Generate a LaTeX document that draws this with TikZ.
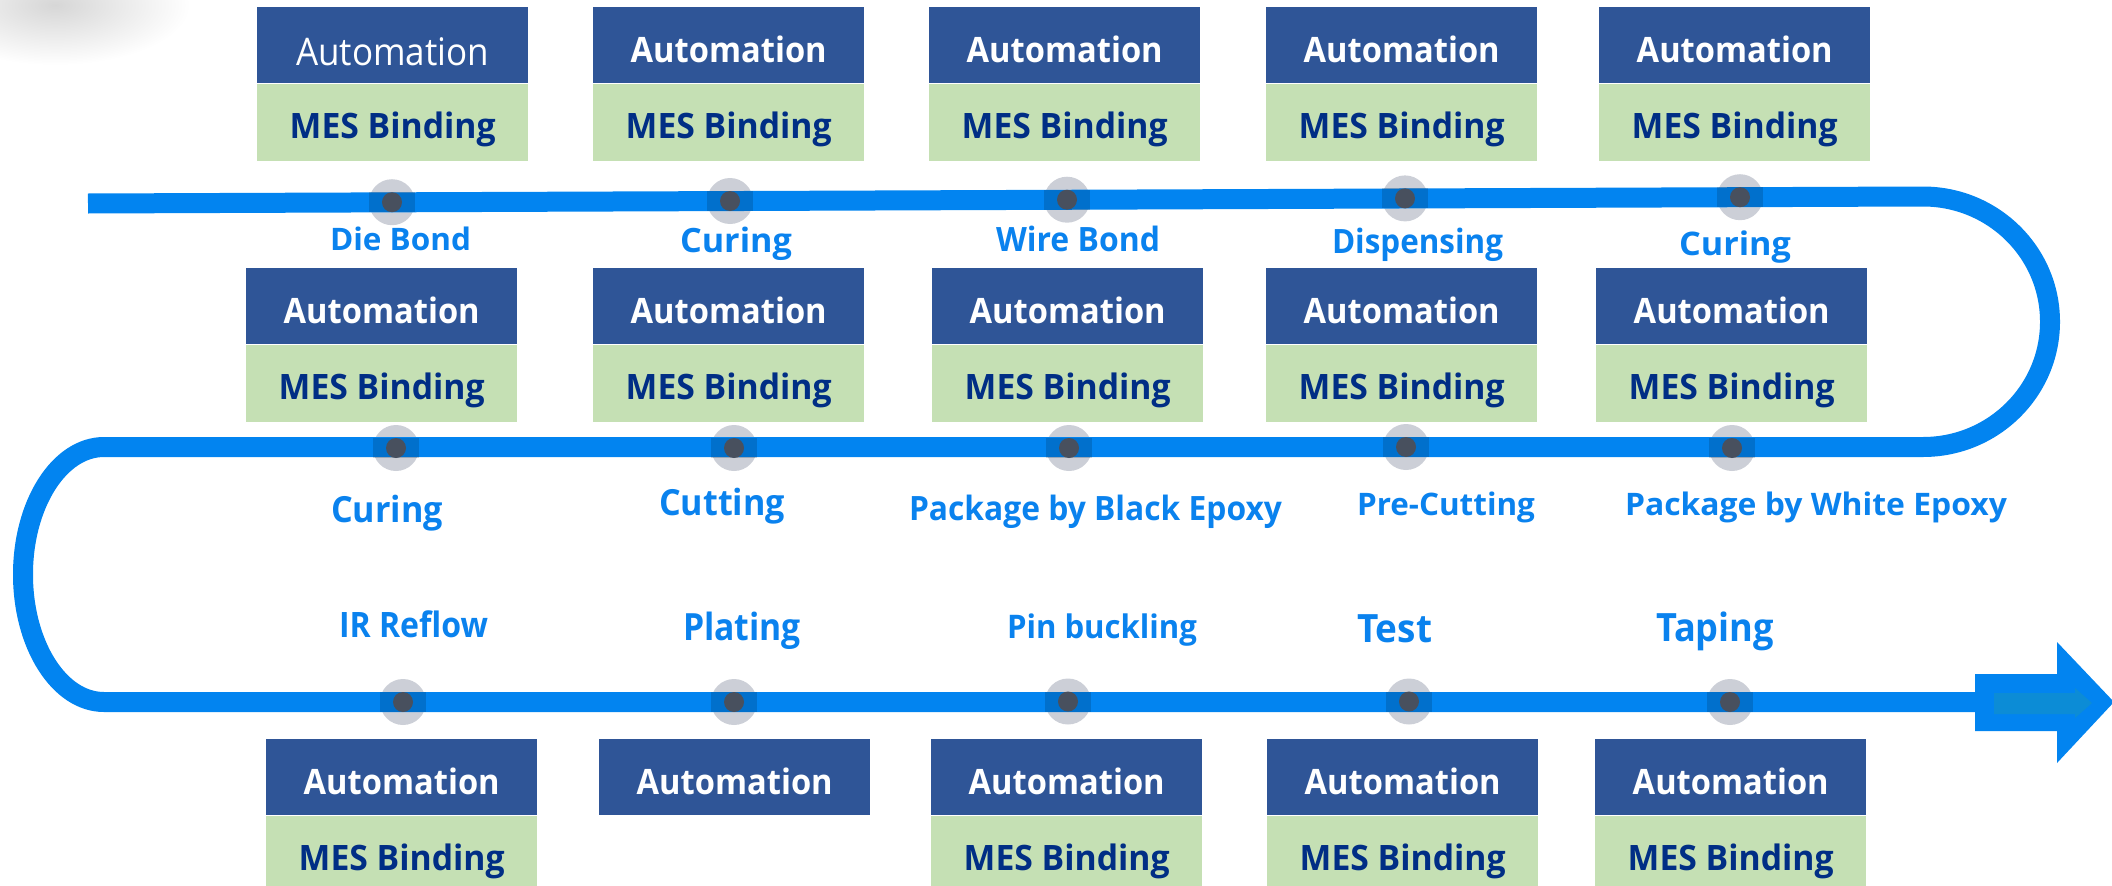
\documentclass[tikz,border=0pt]{standalone}
\usepackage{fontspec}
\setmainfont{Open Sans}
\usepackage{graphicx}

\definecolor{flow}{RGB}{2,132,240}
\definecolor{stepblue}{RGB}{10,130,238}
\definecolor{autofill}{RGB}{47,85,151}
\definecolor{mesfill}{RGB}{197,224,180}
\definecolor{mestext}{RGB}{0,46,133}
\definecolor{halo}{RGB}{204,207,215}
\definecolor{dotcore}{RGB}{72,80,94}
\definecolor{arrowcore}{RGB}{12,140,214}

% set #3 at size #2 and stretch it horizontally to width #1 (pt)
\newcommand\fitto[3]{%
  \begingroup\fontsize{#2}{#2}\selectfont
  \setbox0\hbox{#3}%
  \pgfmathsetmacro\fitscale{#1/\the\wd0}%
  \scalebox{\fitscale}[1]{\box0}\endgroup}

\tikzset{
  autobox/.style={fill=autofill, text=white, minimum width=271pt,
    minimum height=76pt, inner sep=0pt, text height=36pt, text depth=2pt,
    anchor=north west, font=\bfseries},
  mesbox/.style={fill=mesfill, text=mestext, minimum width=271pt,
    minimum height=77pt, inner sep=0pt, text height=35pt, text depth=3pt,
    anchor=north, font=\bfseries},
  steplabel/.style={text=stepblue, inner sep=0pt, anchor=base, font=\bfseries},
  flowline/.style={draw=flow, line width=20pt, line cap=butt, line join=round},
}

\begin{document}
\begin{tikzpicture}[x=1pt, y=-1pt]
\useasboundingbox (0,0) rectangle (2112,886);
\clip (0,0) rectangle (2112,886);

% soft grey shadow in the upper left corner
\shade[inner color=black!16, outer color=white] (55,5) ellipse[x radius=135, y radius=60];

% station points on the flow line
\coordinate (p1) at (392,202.2);
\coordinate (p2) at (730,201.0);
\coordinate (p3) at (1067,199.7);
\coordinate (p4) at (1405,198.4);
\coordinate (p5) at (1740,197.2);
\coordinate (p6) at (396,448);
\coordinate (p7) at (734,448);
\coordinate (p8) at (1069,448);
\coordinate (p9) at (1406,447);
\coordinate (p10) at (1732,448);
\coordinate (p11) at (403,702);
\coordinate (p12) at (734,702);
\coordinate (p13) at (1068,701.5);
\coordinate (p14) at (1409,701.5);
\coordinate (p15) at (1730,702);

% path corners
\coordinate (s1) at (88,203.5);
\coordinate (r1) at (1923,196.5);
\coordinate (l1) at (104,447);
\coordinate (e1) at (1976,702);

% halos under the line
\foreach \i in {1,...,15} \fill[halo] (p\i) circle[radius=23];

% serpentine flow line
\draw[flowline] (s1) -- (r1)
  arc[start angle=270, end angle=450, x radius=127, y radius=125.25]
  -- (l1)
  arc[start angle=270, end angle=90, x radius=81, y radius=127.5]
  -- (e1);

% closing arrow
\fill[flow] (1975,674) -- (2057,674) -- (2057,642) -- (2114,702)
  -- (2057,763) -- (2057,731) -- (1975,731) -- cycle;
\fill[arrowcore] (1994,693) -- (2075,693) -- (2075,688) -- (2092,703)
  -- (2075,718) -- (2075,714) -- (1994,714) -- cycle;

% station dots
\foreach \i in {1,...,15} {
  \fill[black, opacity=0.15, shift={(p\i)}] (-23,-10) rectangle (23,10);
  \fill[dotcore] (p\i) circle[radius=10];
}

% top row of boxes
\node[autobox, font=\mdseries, text height=40pt, text depth=0pt] (ta1) at (257,7) {\fitto{193}{38}{Automation}};
\node[mesbox] (ma1) at (ta1.south) {\fitto{206}{35}{MES Binding}};
\foreach \x [count=\i from 2] in {593,929,1266,1599} {
  \node[autobox] (ta\i) at (\x,7) {\fitto{196}{35}{Automation}};
  \node[mesbox] (ma\i) at (ta\i.south) {\fitto{206}{35}{MES Binding}};
}

% middle row of boxes
\foreach \x [count=\i] in {246,593,932,1266,1596} {
  \node[autobox] (tb\i) at (\x,268) {\fitto{196}{35}{Automation}};
  \node[mesbox] (mb\i) at (tb\i.south) {\fitto{206}{35}{MES Binding}};
}

% bottom row of boxes
\foreach \x [count=\i] in {266,599,931,1267,1595} {
  \node[autobox] (tc\i) at (\x,739) {\fitto{196}{35}{Automation}};
}
\foreach \i in {1,3,4,5} {
  \node[mesbox] (mc\i) at (tc\i.south) {\fitto{206}{35}{MES Binding}};
}

% process step labels
\node[steplabel] (s01) at (400.5,250) {\fitto{141}{31}{Die Bond}};
\node[steplabel] (s02) at (736,252) {\fitto{112}{33.5}{Curing}};
\node[steplabel] (s03) at (1078,251) {\fitto{164}{33.5}{Wire Bond}};
\node[steplabel] (s04) at (1417.5,253) {\fitto{171}{33.5}{Dispensing}};
\node[steplabel] (s05) at (1735,255) {\fitto{112}{32.5}{Curing}};

\node[steplabel] (s06) at (387,522) {\fitto{112}{36}{Curing}};
\node[steplabel] (s07) at (722,515) {\fitto{126}{36}{Cutting}};
\node[steplabel] (s08) at (1095.5,520) {\fitto{373}{33.5}{Package by Black Epoxy}};
\node[steplabel] (s09) at (1446,515) {\fitto{178}{31}{Pre-Cutting}};
\node[steplabel] (s10) at (1816,515) {\fitto{382}{31}{Package by White Epoxy}};

\node[steplabel] (s11) at (413.5,637) {\fitto{149}{35}{IR Reflow}};
\node[steplabel] (s12) at (742,640) {\fitto{118}{37.5}{Plating}};
\node[steplabel] (s13) at (1102,638) {\fitto{190}{32.5}{Pin buckling}};
\node[steplabel] (s14) at (1394.5,642) {\fitto{75}{39}{Test}};
\node[steplabel] (s15) at (1715,641) {\fitto{118}{39}{Taping}};
\end{tikzpicture}
\end{document}
